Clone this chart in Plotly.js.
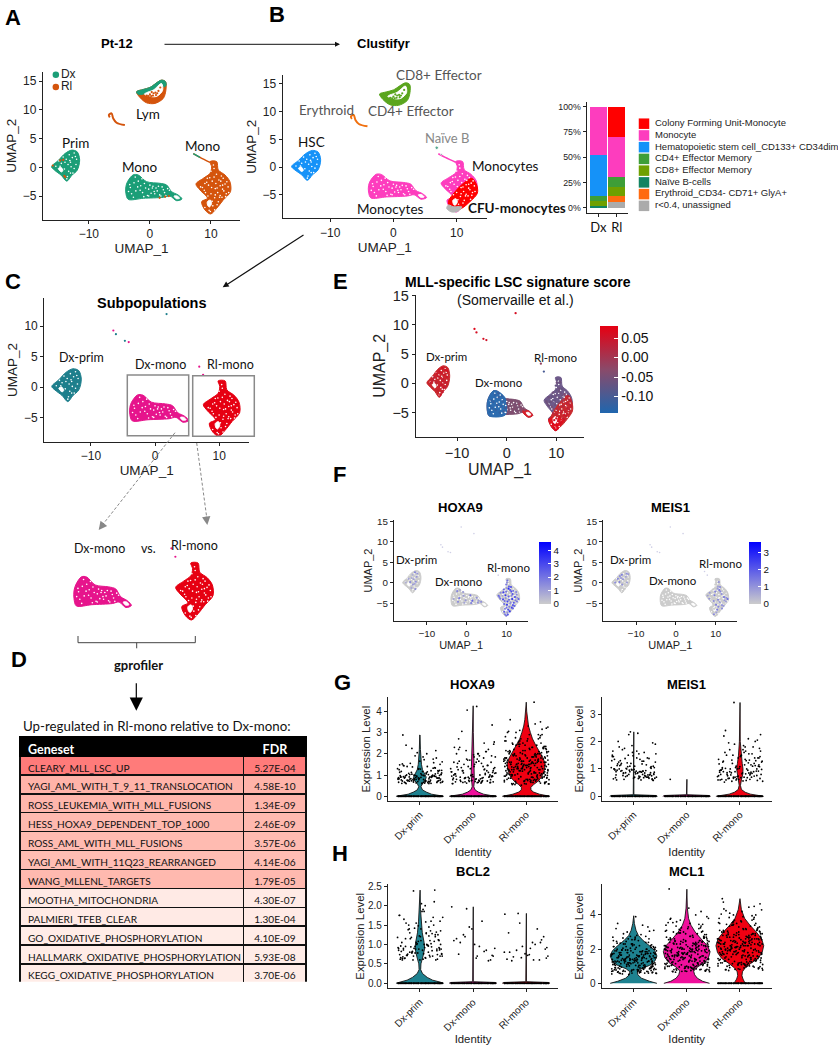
<!DOCTYPE html>
<html><head><meta charset="utf-8"><script src="https://cdn.plot.ly/plotly-3.0.1.min.js"></script>
<style>html,body{margin:0;padding:0;background:#fff}</style></head><body><div id="chart"></div>
<script>
// ---------- UMAP cluster outlines (in UMAP units) ----------
const primX=[-16.1,-15.0,-13.9,-12.8,-11.9,-11.5,-11.9,-12.8,-13.6,-14.5,-15.6];
const primY=[0.1,1.2,2.4,3.0,2.7,1.3,-0.5,-1.4,-2.4,-1.4,-0.5];
const dxX=[-3.93,-3.66,-2.73,-1.91,-0.55,1.64,2.73,3.55,4.6,5.25,4.37,3.28,2.19,-1.09,-3.55,-3.93];
const dxY=[-3.36,-2.49,-1.3,-1.33,-2.49,-2.78,-3.07,-4.23,-4.8,-5.5,-5.8,-5.0,-5.22,-5.39,-5.57,-4.52];
const rlX=[9.84,10.93,11.2,12.3,13.1,13.2,12.02,10.93,9.94,9.02,8.47,9.4,8.2,7.54,8.74,9.84,10.1];
const rlY=[1.0,1.0,-0.47,-1.33,-2.49,-4.23,-5.68,-7.13,-8.12,-7.42,-5.97,-5.39,-3.94,-2.9,-1.91,-1.04,0.1];
const lymX=[-2.19,-1.09,0,1.91,2.57,2.62,2.19,0.82,-0.55,-1.64];
const lymY=[13.16,13.56,13.91,15.19,14.9,13.45,12.0,11.13,11.24,12.17];
const lymTopX=[-2.19,-1.09,0,1.91,2.57,2.62,2.2,1.91,0.55,-0.55,-1.09,-1.9];
const lymTopY=[13.16,13.56,13.91,15.19,14.9,14.2,14.0,14.6,13.5,13.0,12.75,12.7];
const lymHoleX=[-0.9,-0.55,0.55,1.91,2.08,1.2,0.3];
const lymHoleY=[12.75,13.0,13.45,14.6,13.4,12.4,12.3];
const lymSpeckX=[-0.5,0,0.5,0.9,1.4,0.2,-0.2,1.0,1.7,0.6,1.2,0.3];
const lymSpeckY=[12.5,12.7,12.5,13,13.3,12.4,12.4,12.6,13.9,12.9,12.9,13.1];
const eryX=[-6.56,-6.72,-6.28,-6.0,-5.46,-4.1];
const eryY=[8.7,9.1,9.39,8.5,7.77,7.36];
const stalkX=[7.1,8.2,9.84];
const stalkY=[2.4,1.74,0.87];
const cfuX=[9.75,11.06,12.38,13.17,13.27,12.1,10.8,9.75,8.95,8.7];
const cfuY=[-4.45,-2.94,-2.03,-3.24,-4.74,-6.24,-7.44,-7.75,-7.15,-6.24];
const grayX=[8.7,9.45,10.8,10.3,9.2,8.43];
const grayY=[-6.84,-7.15,-7.15,-7.9,-8.1,-7.45];
const dxLeftX=[-3.93,-3.66,-2.73,-1.91,-0.3,-0.3,-3.55,-3.93];
const dxLeftY=[-3.36,-2.49,-1.3,-1.33,-2.55,-5.4,-5.57,-4.52];
const tailX=[3.3,4.6,5.25,4.37,3.28];
const tailY=[-4.6,-4.8,-5.5,-5.8,-5.0];
const rlBottomX=[8.47,10.3,11.6,10.93,9.94,9.02];
const rlBottomY=[-6.1,-5.9,-6.2,-7.13,-8.12,-7.42];
// white gaps inside the clusters
const gapPrimX=[-15.0,-14.55,-14.25,-14.5], gapPrimY=[-0.2,0.0,-0.6,-0.8];
const gapTailX=[3.95,4.5,4.85,4.3], gapTailY=[-5.0,-5.0,-5.4,-5.45];
const gapRlX=[9.4,9.9,10.1,9.75,9.5], gapRlY=[-6.0,-5.7,-6.3,-6.9,-6.7];
const specksPrimX=[-13.0,-14.9,-12.4,-13.4,-12.2,-13.7,-14.0,-12.9,-13.2,-12.6,-14.5,-13.5,-12.1,-13.1,-13.9,-12.7,-14.7,-12.4,-13.3,-12.0,-13.6,-15.4,-13.0,-14.2];
const specksPrimY=[-1.0,1.1,-0.2,0.5,1.9,1.4,-0.3,0.1,2.2,-1.0,0.7,-1.6,0.5,1.2,0.9,1.7,0.2,2.5,-0.7,1.4,-2.0,0.2,0.9,1.8];
const specksDxX=[-3.2,-2.6,-1.5,-0.9,-0.2,0.5,1.2,2.0,-3.0,-2.3,-1.2,-0.4,0.8,1.6,2.4,-2.7,-1.9,-0.7,0.2,1.0,1.8,2.9,-3.5,-2.0,-1.0,0.0,1.4,2.6,-2.4,-1.6,-0.2,0.7,2.2,3.2,-3.3,-1.3,0.4];
const specksDxY=[-3.5,-2.7,-3.2,-2.8,-3.8,-3.3,-4.1,-3.4,-4.6,-4.1,-4.4,-4.9,-4.6,-4.8,-4.4,-5.2,-2.4,-3.6,-4.5,-3.6,-5.0,-3.7,-4.2,-3.4,-5.1,-3.1,-3.3,-4.9,-1.7,-4.0,-5.0,-4.2,-3.9,-4.0,-3.0,-2.0,-3.6];
const specksRlX=[10.4,10.0,10.9,9.8,11.3,9.0,10.2,11.5,12.3,8.6,9.6,10.7,11.9,12.8,9.1,10.0,11.1,12.5,9.5,10.6,11.8,12.2,10.3,11.2,9.9,12.0,10.8,11.4,8.3,9.4,10.5,11.7,12.6,9.3,10.1,11.0,12.1,8.9,10.7,11.5,10.2,11.0,9.7,12.4,10.5,11.6,12.9,9.0,10.6,11.9];
const specksRlY=[0.4,-0.7,-1.2,-1.8,-2.2,-2.8,-2.4,-3.2,-2.9,-3.5,-3.1,-3.7,-3.8,-3.4,-4.4,-4.6,-4.4,-4.6,-5.0,-5.3,-5.2,-5.8,-6.7,-6.0,-7.7,-1.9,-2.8,-5.2,-3.4,-1.9,-0.2,-1.5,-2.5,-2.6,-3.5,-3.6,-4.1,-4.0,-4.8,-4.9,-5.9,-6.5,-7.5,-5.1,-1.7,-2.4,-4.4,-7.0,-7.4,-3.1];
// loose cells shown in panels C and E
const strayX=[1.8,-6.5,-6.1,-4.7,-4.1,6.9,7.5];
const strayY=[12.0,9.3,8.7,7.6,7.4,3.35,2.0];
const strayScore=[0.06,0.07,0.06,0.06,0.05,-0.02,-0.1];
const strayGroup=['#1E7F8C','#E6148C','#1E7F8C','#1E7F8C','#E6148C','#E6148C','#E6148C'];
const strayFX=[-1.4,1.8,-6.5,-6.1,-4.7,-4.1,7.2,7.9];
const strayFY=[13.6,12.0,9.3,8.7,7.6,7.4,2.8,1.9];
// sampled cells coloured by score / expression
const dotsPrimX=[-13.2,-12.4,-12.9,-13.8,-14.2,-12.1,-13.5,-12.7,-14.6,-13.0,-12.3,-13.6,-12.9,-14.9,-13.3,-12.0,-13.9,-12.6,-13.4,-15.3,-12.8,-14.1,-13.1,-12.4];
const dotsPrimY=[1.8,2.3,0.7,1.2,0.2,1.1,-0.4,-0.8,1.0,2.6,0.1,2.0,-1.5,0.5,0.9,2.1,-1.2,1.5,-2.0,0.1,0.3,1.7,-0.2,-0.6];
const dotsDxX=[-3.1,-2.4,-1.6,-0.8,0.1,0.9,1.7,2.5,-3.3,-2.7,-1.9,-1.1,-0.3,0.6,1.4,2.2,3.0,-3.4,-2.2,-1.4,-0.6,0.3,1.1,1.9,2.8,-2.9,-1.7,-0.9,0.4,3.6];
const dotsDxY=[-2.9,-2.0,-2.4,-3.1,-3.4,-3.0,-3.5,-3.6,-3.9,-3.2,-3.7,-3.9,-4.2,-3.9,-4.3,-4.1,-4.3,-4.9,-4.6,-5.0,-4.8,-5.0,-4.9,-4.7,-4.8,-4.3,-1.7,-2.2,-4.5,-4.6];
const dotsRlX=[10.2,10.8,9.9,10.6,10.1,11.1,9.3,10.0,10.9,11.7,8.5,9.2,9.9,10.7,11.5,12.4,8.0,8.9,9.7,10.5,11.3,12.1,12.9,8.4,9.1,9.8,10.6,11.4,12.2,13.0,8.7,9.5,10.2,11.0,11.8,12.6,9.4,10.1,10.9,11.6,12.3,10.0,10.7,11.3,12.0,9.6,10.4,11.0,11.6,9.4,10.2,10.8,9.6,10.3,9.9,12.7,8.2,11.2,12.5,10.5];
const dotsRlY=[0.6,0.2,-0.4,-0.9,0.1,-1.0,-1.6,-1.2,-1.7,-1.9,-2.4,-2.3,-2.1,-2.5,-2.7,-2.2,-3.1,-3.2,-3.0,-3.3,-3.1,-3.4,-3.0,-3.8,-4.0,-3.7,-4.1,-3.9,-4.2,-3.9,-3.3,-4.4,-4.5,-4.7,-4.8,-4.5,-5.1,-5.3,-5.0,-5.4,-5.2,-6.0,-5.8,-6.0,-5.6,-6.3,-6.5,-6.6,-6.2,-7.0,-7.2,-6.9,-7.6,-7.7,-7.9,-3.6,-3.4,-2.1,-2.8,-1.4];
const scorePrim=[0.05,0.06,0.04,0.05,0.03,0.05,0.04,0.05,0.03,0.06,0.04,0.05,0.04,0.03,0.05,0.06,0.04,0.05,0.05,0.04,0.04,0.05,0.05,0.03];
const scoreDx=[-0.12,-0.12,-0.11,-0.12,-0.05,-0.04,-0.05,-0.03,-0.13,-0.12,-0.11,-0.12,-0.1,-0.05,-0.04,-0.05,-0.03,-0.13,-0.12,-0.12,-0.11,-0.05,-0.04,-0.05,-0.03,-0.12,-0.11,-0.12,-0.05,-0.02];
const scoreRl=[-0.07,-0.06,-0.07,-0.06,-0.06,-0.07,-0.06,-0.07,-0.06,-0.03,-0.06,-0.07,-0.06,-0.06,-0.02,0.02,-0.06,-0.06,-0.07,-0.05,0.0,0.03,0.03,-0.06,-0.05,-0.06,0.0,0.02,0.03,0.04,-0.07,-0.03,0.01,0.03,0.04,0.03,0.02,0.03,0.04,0.05,0.04,0.05,0.05,0.04,0.05,0.05,0.05,0.06,0.05,0.06,0.07,0.06,0.07,0.07,0.07,0.03,-0.06,-0.06,0.02,-0.06];
const hoxaPrim=[0,1.2,0,0.8,1.5,0,1.1,0,0.9,1.6,0,0.7,1.3,0,1.0,0,0.8,1.2,0,0.6,1.4,0,0.9,0];
const hoxaDx=[0,1.6,0,1.1,0,2.0,0,1.3,0.9,0,1.8,0,1.2,0,2.4,0,1.0,0,1.5,0,0.9,0,1.7,0,1.3,0,0.8,1.1,0,1.4];
const hoxaRl=[2.1,0,1.8,2.5,1.4,3.0,2.2,1.1,2.6,1.9,1.5,3.2,2.0,0,2.7,1.7,2.3,1.2,3.4,2.4,1.6,2.9,0,1.9,2.8,1.3,2.2,3.6,1.8,2.5,0,2.1,3.0,1.5,2.6,1.9,2.3,3.3,1.4,2.7,0,2.0,1.7,3.1,2.4,1.6,2.9,0,2.2,2.5,1.3,3.5,1.8,2.6,2.1,1.2,2.0,2.8,1.5,3.7];
const meisPrim=[0,1.1,0,0.9,1.3,0,1.0,0,1.2,0,0.8,1.4,0,0,1.0,0.9,0,0.7,0,1.1,0,1.2,0,0];
const meisRl=[0,1.0,0,0.8,0,1.2,0,0,1.5,0,0.9,0,1.3,0,1.1,0,0.8,0,1.4,0,0,1.6,0,1.0,0,0,1.2,0,0.9,1.7,0,1.1,0,1.3,0,0.8,0,1.4,0,1.0,0,0,1.2,0,0.9,0,1.5,0,1.1,0,0.8,0,1.3,0,0,1.0,0,1.2,0,0.9];

// ---------- stacked bar ----------
const barCats=['Dx','Rl'];
const barNames=['Colony Forming Unit-Monocyte','Monocyte','Hematopoietic stem cell_CD133+ CD34dim','CD4+ Effector Memory','CD8+ Effector Memory','Naïve B-cells','Erythroid_CD34- CD71+ GlyA+','r<0.4, unassigned'];
const barColors=['#FF0000','#FD3DBE','#1592F8','#3E9E37','#6FA000','#128462','#FF6A10','#ABABAB'];
const barDx=[0,48,40,5.4,5,1.6,0,0];
const barRl=[30.4,39.6,0,9.2,8.8,0,6,6];
const barTicks=[0,25,50,75,100];
const barTickText=['0%','25%','50%','75%','100%'];
const legendRows=[0,1,2,3,4,5,6,7];

// ---------- table ----------
const genesets=['CLEARY_MLL_LSC_UP','YAGI_AML_WITH_T_9_11_TRANSLOCATION','ROSS_LEUKEMIA_WITH_MLL_FUSIONS','HESS_HOXA9_DEPENDENT_TOP_1000','ROSS_AML_WITH_MLL_FUSIONS','YAGI_AML_WITH_11Q23_REARRANGED','WANG_MLLENL_TARGETS','MOOTHA_MITOCHONDRIA','PALMIERI_TFEB_CLEAR','GO_OXIDATIVE_PHOSPHORYLATION','HALLMARK_OXIDATIVE_PHOSPHORYLATION','KEGG_OXIDATIVE_PHOSPHORYLATION'];
const fdr=['5.27E-04','4.58E-10','1.34E-09','2.46E-09','3.57E-06','4.14E-06','1.79E-05','4.30E-07','1.30E-04','4.10E-09','5.93E-08','3.70E-06'];
const rowFill=['#FF7B7A','#FFB3A9','#FFB6AC','#FFB9AF','#FFBBB1','#FFBDB3','#FFB9AF','#FFEAE5','#FFEAE5','#FFECE7','#FFECE7','#FFECE7'];

// ---------- violins ----------
const identities=['Dx-prim','Dx-mono','Rl-mono'];
const vioColors=['#1E8290','#F0109C','#F00012'];
const hoxaV=[
 {y:[0,.04,.1,.2,.3,.45,.6,.75,.9,1.05,1.25,1.5,1.8,2.2,2.88],w:[.45,.36,.22,.12,.05,.02,.05,.1,.12,.09,.05,.03,.02,.01,.003]},
 {y:[0,.04,.1,.2,.3,.45,.7,1,1.4,1.9,2.3,3,4.25],w:[.45,.33,.2,.1,.04,.015,.025,.035,.03,.025,.012,.006,.003]},
 {y:[0,.04,.1,.2,.3,.42,.55,.7,.9,1.2,1.5,1.8,2.1,2.4,2.7,3,3.3,3.6,4,4.42],w:[.45,.37,.25,.14,.09,.09,.14,.22,.29,.34,.36,.32,.25,.18,.12,.08,.045,.025,.01,.003]}];
const meisV=[
 {y:[0,.03,.06,2.35],w:[.45,.42,.006,.004]},
 {y:[0,.03,.06,.62],w:[.45,.42,.005,.004]},
 {y:[0,.03,.08,.15,.25,.4,.6,.8,1,1.2,1.5,2,3.42],w:[.45,.36,.2,.1,.03,.012,.03,.055,.06,.045,.025,.008,.004]}];
const bclV=[
 {y:[0,.03,.08,.15,.25,.35,.5,.7,.9,1.05,1.3,1.6,1.9,2.4],w:[.45,.38,.24,.14,.05,.015,.02,.06,.09,.08,.045,.025,.012,.004]},
 {y:[0,.02,.04,1.97],w:[.45,.42,.006,.005]},
 {y:[0,.02,.04,1.8],w:[.45,.42,.006,.005]}];
const mclV=[
 {y:[0,.12,.3,.5,.68,.85,1.05,1.3,1.6,1.9,2.2,2.5,2.8,3.1,3.5,3.95],w:[.44,.3,.15,.08,.07,.14,.3,.4,.44,.4,.3,.18,.09,.045,.015,.003]},
 {y:[0,.12,.3,.5,.72,.95,1.2,1.5,1.85,2.2,2.6,3,3.4,3.8,4.4,5.5],w:[.43,.3,.2,.15,.13,.2,.33,.41,.44,.39,.27,.16,.08,.035,.012,.003]},
 {y:[0,.1,.25,.45,.68,.9,1.15,1.45,1.8,2.2,2.6,3,3.4,3.8,4.3,4.95],w:[.1,.09,.06,.04,.05,.1,.2,.34,.42,.45,.41,.31,.19,.09,.03,.003]}];
const xoff=[-.31,.12,.38,-.07,.25,-.4,.03,.33,-.18,-.27,.17,.41,-.12,.08,-.36,.29,-.02,.21,-.24,.36,-.15,.06,-.33,.14,.39,-.09,.27,-.41,.01,.19,-.21,.32,-.05,.1,-.38,.23,-.29,.35,-.11,.04,.42,-.2,.16,-.35,.28,-.03,.11,-.26,.37,-.16,.07,-.39,.22,-.13,.31,-.06,.18,-.3,.4,-.01,.13,-.23,.34,-.37,.09,.26,-.19,.02,-.32,.2,-.08,.43,-.25,.15,-.42,.3,-.1,.05,-.34,.24,.38,-.17,-.04,.12,-.28,.35,-.14,.08,-.4,.21,.33,-.22,0,-.36,.17,.41,-.07,-.31,.27,.1,-.19,.36,-.12,-.03,.23,-.27,.06,.39,-.38,.16,-.09,.29,-.24,.02,.32,-.33,.19,-.15,.11,.37,-.41,.04,.25,-.06,-.2,.34,-.29,.14,.42,-.11,.07,-.35,.22,.3,-.16,-.02,.18,-.26,.4,-.39,.09,.28,-.13,-.23,.03,.35,-.3,.15];
const hPrim=[.92,1.1,.75,.63,1.32,.88,1.01,.7,1.55,.96,.82,1.22,.67,1.72,.9,1.05,.78,.61,1.4,.85,2.25,.99,.72,1.15,.64,1.9,.94,.8,1.28,.69,1.08,.87,2.05,.74,1.48,.95,.66,1.18,.83,.6,1.62,.91,1.02,.77,1.35,.86,.71,2.4,.98,1.12,.65,1.25,.89,.79,1.8,.93,.68,1.43,1.03,.84,2.0,.73,1.2,.97,.62,1.58,.81,1.07,2.88,.76,
 .88,.7,1.0,.64,1.3,.93,.78,1.16,.61,.99,1.5,.83,.69,1.06,.9,.73,1.38,.96,.66,1.2,.85,.75,1.65,.92,.6,1.1,.8,1.45,.97,.68,1.02,.87,.72,1.27,.94,.63,1.85,.81,1.13,.7,.98,1.33,.76,.89,.65,1.52,.91,1.04,.74,1.22,.84,.62,1.75,.95,.71,1.09,.86,1.4,.67,.99,.79,1.17,.93,2.15,.73,1.3,.88,.6,1.03,.82];
const hDx=[.8,1.9,1.2,.7,2.1,.95,1.5,.65,1.1,2.7,.85,1.35,.62,1.75,1.0,2.2,.75,1.25,.9,3.35,.68,1.6,1.05,.82,2.45,1.4,.72,1.15,1.95,.88,3.05,.64,1.3,2.0,.78,1.08,1.55,.92,4.05,.7,1.85,1.2,.66,2.3,1.45,.98,.76,1.65,1.12,.84,4.22,.6,1.28,2.15,.94,1.7,.74,1.38,2.55,1.02,
 1.0,.7,1.6,.85,2.0,1.2,.65,1.4,.95,1.8,.75,1.1,2.3,.62,1.3,.9,1.7,.8,1.05,2.1,.68,1.5,.98,.72,1.25,1.9,.88,.64,1.15,2.5,.78,1.35,.92,1.6,.7,1.08,.84,2.0,1.45,.66,1.2,.96,1.75,.74,1.02,2.2,.82,1.3,.6,1.55,.9,1.12,.76,1.85,1.0,.68,1.4,.86,1.65,.94];
const hRl=[1.6,.9,2.2,1.3,.7,1.8,2.7,1.1,1.5,.6,2.0,1.2,3.1,1.7,.8,1.4,2.4,1.0,1.9,.65,1.55,2.9,1.25,.75,2.1,1.65,3.5,.95,1.35,1.85,.55,2.3,1.45,1.05,2.6,1.75,.85,1.15,2.05,3.3,1.5,.7,1.95,1.3,2.5,.6,1.6,1.0,2.25,1.4,.8,2.8,1.7,1.2,.9,2.15,1.55,3.6,1.1,1.9,.65,1.35,2.35,1.8,.75,1.25,3.0,1.45,2.0,.95,1.65,.58,2.45,1.15,1.75,.85,2.7,1.5,1.05,2.1,3.2,1.3,.7,1.85,1.6,.6,2.55,1.2,1.4,.9,2.25,1.95,.8,1.1,3.4,1.7,1.35,2.05,.62,1.55,2.4,1.0,1.8,.72,2.9,1.25,1.65,.88,2.15,1.45,.52,1.9,1.15,2.6,1.75,3.05,.78,1.3,2.3,1.6,.68,1.05,2.0,1.4,2.75,.92,1.5,1.85,.58,1.2,2.2,1.7,.82,3.15,1.35,1.95,1.1,2.5,.98,1.55,.66,1.8,2.35,1.25,.74,1.45,2.1,4.42,1.02,1.6,
 1.4,2.0,1.1,1.7,.8,2.3,1.5,.95,1.9,1.25,2.6,.7,1.6,1.05,2.15,1.35,.6,1.8,2.45,1.15,.85,1.55,2.05,1.3,2.85,.75,1.45,1.95,1.0,2.25,1.65,.9,1.2,2.7,1.5,.65,1.75,1.1,2.1,1.4,.8,3.0,1.6,1.25,1.85,.55,2.35,1.05,1.5,.95,2.0,1.7,1.3,2.5,.72,1.15,1.9,1.45,.88,2.2,1.6,1.0,1.35,2.75,.62,1.8,1.2,2.4,1.55,.78,1.95,1.1,1.65,2.9,.92,1.4,2.1,1.25,.68,1.75,1.5,2.3,1.02,1.85,.82,1.3,2.6,1.6,1.08,2.0,.58,1.45,1.7,3.25,1.18,2.15,.98,1.55,1.9,1.28,2.45,.74,1.65,1.38,2.25,.86,1.8,1.12,1.5,2.05];
const mPrim=[.95,1.35,.8,1.1,.7,1.5,.88,1.02,.62,1.8,.92,1.25,.75,2.3,1.0,.66,1.6,.85,1.15,1.95,.72,1.4,.9,.6,1.05,2.25,.78,1.3,.98,.68,1.7,.86,1.2,.74,1.45,.94,2.0,.64,1.08,.82,1.55,.76,1.28,.96,.7,1.85,.9,1.12,.58,1.38,.84,1.65,.72,1.0,.8,2.35,.92,1.18,.66,1.48,
 .9,1.2,.75,1.0,.65,1.4,.85,1.1,.6,1.6,.95,.7,1.3,.88,1.05,.78,1.5,.92,.68,1.15,.82,1.75,.98,.72,1.25,.62,1.02,.86,1.45,.76,1.08,.94,.66,1.35,.8,1.9,.9,1.12,.7,1.55,.84,.6,1.22,.96,.74,1.0,1.65,.88,.64,1.18,.8,1.38,.92,.7,1.05,.78,1.28,.86,.68,1.1];
const mDx=[.62];
const mRl=[.9,1.3,.65,1.1,1.8,.75,1.5,.58,1.0,2.4,.85,1.25,.7,1.6,.95,2.0,.62,1.15,.8,1.4,.55,1.7,1.05,.68,2.25,.9,1.2,.6,1.45,.78,1.95,1.0,.72,1.35,.88,1.55,.52,1.1,3.42,.82,1.28,.66,2.1,.96,1.4,.74,1.65,.6,1.08,.86,1.85,1.18,.7,1.5,.92,.64,1.32,2.2,.8,1.02,
 1.0,.75,1.4,.6,1.15,.9,1.7,.68,1.25,.82,1.05,.55,1.5,.95,.72,1.3,1.9,.85,.62,1.1,1.45,.78,1.0,.58,1.6,.92,1.2,.7,1.35,.88,2.05,.65,1.08,.8,1.55,.98,.6,1.28,.74,1.8,.9,1.15,.66,1.4,.84,1.02,.56,1.65,.94,1.22,.7,1.12,.86,1.48,.76,1.0,.62,1.32,.82,1.75];
const bPrim=[.9,1.3,.7,1.05,1.7,.85,2.05,.62,1.15,.95,1.45,.75,2.38,1.0,.66,1.25,.88,1.6,.72,1.1,.8,1.9,.6,.98,1.35,.78,2.1,.92,1.2,.68,1.5,.84,1.02,2.0,.74,1.28,.64,1.12,.9,1.85,.7,1.4,.96,.82,2.4,1.08,.65,1.55,.86,1.18,.76,1.75,.94,.6,1.32,1.0,.72,1.65,.88,1.22,
 1.0,.75,1.25,.62,.92,1.5,.8,1.1,.68,1.35,.88,1.7,.72,.98,1.18,.6,1.42,.85,1.05,.7,1.6,.94,.78,1.28,.65,1.12,.82,1.85,.9,1.02,.74,1.38,.6,.96,1.22,.76,1.55,.86,1.08,.66,1.3,.92,.7,1.48,.84,1.15,.62,1.0,1.75,.8,.95,1.2,.72,1.4,.88,.64,1.1,.78,1.58,.9];
const bDx=[1.15,.95,.7,1.45,.85,1.97,1.0,.6,1.25,.75,1.6,.9,1.92,.7,1.1,.58,1.4,.82,1.05,.72,1.2,.65];
const bRl=[.8,1.05,.65,.95,.6,1.78,.72,1.2,.85,.58,1.0,.7,1.55,.9,.62,1.12,.76,1.4,.68,.88,1.8,.74,1.3,.6,.92,.66,1.05,.8];
const cPrim=[1.5,.9,2.1,1.2,.7,1.7,2.6,1.0,1.4,.6,1.9,1.1,3.0,1.6,.8,1.3,2.3,.95,1.8,.65,1.45,2.8,1.25,.75,2.0,1.55,3.3,.85,1.35,1.65,.55,2.2,1.15,1.05,2.5,1.75,.9,1.2,1.95,3.9,1.5,.7,1.85,1.3,2.4,.6,1.6,1.0,2.15,1.4,.8,2.7,1.7,1.1,.9,2.05,1.55,3.5,1.2,1.8,.65,1.35,2.25,1.75,.75,1.25,2.9,1.45,1.9,.95,1.65,.58,2.35,1.15,1.7,.85,2.6,1.5,1.05,2.0,3.1,1.3,.72,1.85,1.6,.62,2.45,1.2,1.4,.9,2.1,1.95,.8,1.1,3.4,1.7,1.35,2.0,.68,1.55,2.3,1.0,1.8,.78,2.75,1.25,1.65,.88,2.15,1.45,.52,1.9,1.15,2.55,1.75,3.2,.82,1.3,2.2,1.6,.7,1.05,2.0,1.4,2.65,.92,1.5,1.85,.6,1.2,
 1.4,1.9,1.0,1.6,.7,2.2,1.2,.85,1.75,1.1,2.5,.6,1.5,.95,2.0,1.3,.65,1.7,2.35,1.05,.8,1.45,1.85,1.25,2.7,.75,1.35,1.8,.9,2.1,1.55,.7,1.15,2.6,1.4,.6,1.65,1.0,1.95,1.3,.78,2.85,1.5,1.2,1.75,.55,2.25,1.05,1.45,.88,1.9,1.6,1.25,2.4,.68,1.1,1.8,1.35,.82,2.05,1.5,.92,1.3,2.55,.62,1.7,1.15,2.3,1.4,.72,1.85,1.0,1.55,2.75,.85,1.3,2.0,1.2,.66,1.65,1.45,2.15,.96,1.75,.76,1.25,2.45,1.5,1.02,1.9,.58,1.35,1.6,3.05,1.1,2.1,.9,1.45,1.8,1.2,2.3,.7,1.55,1.28,2.15,.8,1.7,1.08,1.4,1.95];
const cDx=[1.9,1.1,2.6,1.5,.8,2.2,3.3,1.3,1.8,.7,2.4,1.4,3.7,2.0,1.0,1.6,2.9,1.2,2.3,.75,1.85,3.5,1.55,.9,2.5,2.0,4.2,1.15,1.7,2.1,.65,2.75,1.45,1.3,3.1,2.2,1.05,1.5,2.45,4.4,1.9,.85,2.3,1.6,3.0,.72,2.0,1.25,2.7,1.75,.95,3.4,2.15,1.35,1.1,2.55,1.95,3.8,1.4,2.25,.8,1.65,2.85,2.1,.9,1.55,3.6,1.8,2.4,1.2,2.05,.68,3.0,1.45,2.2,1.05,3.25,1.9,1.3,2.5,3.9,1.6,.88,2.35,2.0,.75,3.15,1.5,1.75,1.15,2.65,2.45,1.0,1.35,4.0,2.15,1.7,2.55,.82,1.95,2.9,1.25,2.3,.98,3.45,1.6,2.05,1.1,2.7,1.8,.7,2.4,1.4,3.2,2.2,5.52,1.02,1.65,2.8,2.0,.86,1.3,2.5,1.75,3.35,1.18,1.9,2.3,.78,1.5,2.75,2.1,1.08,3.05,1.7,2.45,1.38,3.55,1.22,1.95,.92,2.25,2.95,1.55,.96,1.85,2.6,1.45,3.75,.84,
 1.8,2.4,1.3,2.0,.9,2.7,1.6,1.1,2.2,1.45,3.1,.75,1.9,1.2,2.5,1.7,.8,2.15,2.95,1.35,1.0,1.85,2.35,1.55,3.35,.95,1.75,2.3,1.15,2.65,2.0,.88,1.5,3.2,1.8,.72,2.1,1.25,2.45,1.65,.98,3.55,1.9,1.5,2.2,.68,2.85,1.3,1.85,1.1,2.4,2.05,1.6,3.0,.85,1.4,2.25,1.7,1.05,2.6,1.95,1.18,1.65,3.25,.78,2.15,1.45,2.9,1.75,.92,2.35,1.28,2.0,3.45,1.08,1.6,2.55,1.5,.82,2.1,1.8,2.7,1.22,2.2,.96,1.55,3.05,1.9,1.32,2.5,.7,1.7,2.05,3.8,1.4,2.65,1.12,1.85,2.3,1.52,2.95,.9,2.0,1.62,2.75,1.02,2.15,1.38,1.78,2.45];
const cRl=[2.3,1.4,3.0,1.9,1.0,2.6,3.6,1.6,2.2,.8,2.8,1.7,4.0,2.4,1.2,2.0,3.3,1.5,2.7,.9,2.25,3.9,1.85,1.1,2.9,2.4,4.5,1.45,2.1,2.5,.75,3.1,1.75,1.6,3.5,2.6,1.3,1.9,2.85,4.2,2.3,1.05,2.7,2.0,3.4,.85,2.4,1.55,3.05,2.15,1.15,3.8,2.55,1.7,1.35,2.95,2.35,4.35,1.8,2.65,1.0,2.05,3.25,2.5,1.1,1.95,4.1,2.2,2.8,1.5,2.45,.78,3.45,1.8,2.6,1.3,3.7,2.3,1.65,2.9,4.65,2.0,1.08,2.75,2.4,.9,3.55,1.9,2.15,1.4,3.15,2.85,1.2,1.7,4.45,2.55,2.1,3.0,.95,2.35,3.35,1.55,2.7,1.18,3.95,2.0,2.45,1.35,3.1,2.2,.82,2.8,1.75,3.65,2.6,4.95,1.28,2.05,3.2,2.4,1.02,1.6,2.9,2.15,3.85,1.45,2.3,2.7,.88,1.85,3.15,2.5,1.25,3.5,2.1,2.85,1.65,4.25,1.48,2.35,1.12,2.6,3.4,1.9,1.22,2.25,3.0,1.8,4.75,.98,
 2.2,2.8,1.6,2.4,1.1,3.2,1.9,1.3,2.6,1.75,3.6,.9,2.3,1.45,3.0,2.05,1.0,2.55,3.4,1.65,1.2,2.2,2.75,1.85,3.85,1.15,2.1,2.7,1.4,3.1,2.35,1.05,1.8,3.7,2.15,.85,2.5,1.5,2.9,1.95,1.18,4.05,2.3,1.8,2.6,.8,3.3,1.55,2.2,1.35,2.85,2.45,1.9,3.5,1.02,1.7,2.65,2.0,1.25,3.05,2.3,1.4,1.95,3.75,.92,2.55,1.75,3.35,2.1,1.1,2.8,1.55,2.4,4.0,1.28,1.9,3.0,1.8,.98,2.5,2.15,3.15,1.48,2.6,1.15,1.85,3.55,2.25,1.58,2.95,.82,2.05,2.45,4.3,1.68,3.1,1.35,2.2,2.7,1.82,3.45,1.08,2.4,1.95,3.2,1.22,2.55,1.62,2.1,2.9];
// cells with zero expression form the black row along the base of each violin
const zeroRow=[0,0,0,0,0,0,0,0,0,0,0,0,0,0,0,0,0,0,0,0,0,0,0,0,0,0,0,0,0,0,0,0,0,0,0,0,0,0,0,0,0,0,0,0,0,0,0,0,0,0];

// ---------- helpers ----------
const W=838,H=1050,SANS='"Liberation Sans",Arial,sans-serif',LATO='Lato,"Open Sans",sans-serif',INK='#222';
const px=v=>v/W, py=v=>1-v/H;
const traces=[],annotations=[],shapes=[];
const layout={width:W,height:H,margin:{l:0,r:0,t:0,b:0},autosize:false,showlegend:false,paper_bgcolor:'#fff',plot_bgcolor:'rgba(0,0,0,0)',barmode:'stack',bargap:0.1,font:{family:SANS,color:INK},annotations,shapes};
function axes(n,l,r,t,b,xr,yr,o){o=o||{};const s=n===1?'':n;
  const base={showgrid:false,zeroline:false,showline:true,linecolor:INK,linewidth:1.3,ticks:'outside',ticklen:3,tickwidth:1,tickcolor:INK,automargin:false};
  layout['xaxis'+s]=Object.assign({},base,{domain:[px(l),px(r)],range:xr,anchor:'y'+s,tickvals:[-10,0,10],tickfont:{size:o.tick||12,family:SANS,color:INK},
    title:o.xt?{text:o.xt,font:{size:o.tsize||13.5,family:SANS,color:INK},standoff:o.xs==null?4:o.xs}:undefined},o.x||{});
  layout['yaxis'+s]=Object.assign({},base,{domain:[py(b),py(t)],range:yr,anchor:'x'+s,tickvals:[-5,0,5,10,15],tickfont:{size:o.tick||12,family:SANS,color:INK},
    title:o.yt?{text:o.yt,font:{size:o.tsize||13.5,family:SANS,color:INK},standoff:o.ys==null?4:o.ys}:undefined},o.y||{});
}
const hidden={visible:false};
const ref=n=>n===1?{xaxis:'x',yaxis:'y'}:{xaxis:'x'+n,yaxis:'y'+n};
function fill(n,xs,ys,c){traces.push(Object.assign({type:'scatter',mode:'lines',x:xs.concat(xs[0]),y:ys.concat(ys[0]),fill:'toself',fillcolor:c,line:{color:c,width:1,shape:'spline',smoothing:0.9},hoverinfo:'skip'},ref(n)));}
function line(n,xs,ys,c,w){traces.push(Object.assign({type:'scatter',mode:'lines',x:xs,y:ys,line:{color:c,width:w,shape:'spline'},hoverinfo:'skip'},ref(n)));}
function pts(n,xs,ys,c,s){traces.push(Object.assign({type:'scatter',mode:'markers',x:xs,y:ys,marker:{color:c,size:s,line:{width:0}},hoverinfo:'skip'},ref(n)));}
function gaps(n){
  fill(n,gapPrimX,gapPrimY,'#fff');fill(n,gapTailX,gapTailY,'#fff');fill(n,gapRlX,gapRlY,'#fff');
  pts(n,specksPrimX,specksPrimY,'#fff',1.6);pts(n,specksDxX,specksDxY,'#fff',1.6);pts(n,specksRlX,specksRlY,'#fff',1.6);
}
function label(t,x,y,size,o){annotations.push(Object.assign({text:t,xref:'paper',yref:'paper',x:px(x),y:py(y),xanchor:'center',yanchor:'middle',showarrow:false,font:{size:size,family:LATO,color:'#111'}},o||{}));}
function bold(t,x,y,size){label('<b>'+t+'</b>',x,y,size,{font:{size,family:SANS,color:'#000'}});}
function arrow(x0,y0,x1,y1,c,w,s){annotations.push({text:'',xref:'paper',yref:'paper',x:px(x1),y:py(y1),ax:x0-x1,ay:y0-y1,axref:'pixel',ayref:'pixel',showarrow:true,arrowhead:2,arrowsize:s||1,arrowwidth:w,arrowcolor:c,standoff:0});}
function seg(x0,y0,x1,y1,c,w,dash){shapes.push({type:'line',xref:'paper',yref:'paper',x0:px(x0),y0:py(y0),x1:px(x1),y1:py(y1),line:{color:c,width:w,dash:dash||'solid'},layer:'above'});}
function box(x0,y0,x1,y1){shapes.push({type:'rect',xref:'paper',yref:'paper',x0:px(x0),y0:py(y0),x1:px(x1),y1:py(y1),line:{color:'#8A8A8A',width:1.5},layer:'above'});}

// ---------- Panel A ----------
axes(1,43,240,72,219.5,[-17.5,14.75],[-9.08,16.6],{xt:'UMAP_1',yt:'UMAP_2',xs:3,ys:3});
const GRN='#1B9E77',ORG='#D4540C';
fill(1,primX,primY,GRN);fill(1,dxX,dxY,GRN);fill(1,rlX,rlY,ORG);line(1,stalkX,stalkY,ORG,1.5);line(1,stalkX.slice(0,2),stalkY.slice(0,2),GRN,1.5);
fill(1,lymX,lymY,ORG);fill(1,lymTopX,lymTopY,GRN);fill(1,lymHoleX,lymHoleY,'#fff');pts(1,lymSpeckX,lymSpeckY,ORG,2.2);line(1,eryX,eryY,ORG,2);
gaps(1);
// cells of the other sample inside each cluster
const crossRlX=[-15.9,-14.7,-14.2,-14.0,-13.85,1.6,2.5,3.1];
const crossRlY=[0.3,1.2,1.3,-1.5,-1.7,-5.3,-5.1,-5.0];
pts(1,crossRlX,crossRlY,ORG,2.2);
// key of panel A
const sampleNames=['Dx','Rl'], sampleColors=[GRN,ORG], sampleKeyX=[-15.4,-15.4], sampleKeyY=[16.1,14.0];
traces.push({type:'scatter',mode:'markers+text',x:sampleKeyX,y:sampleKeyY,text:sampleNames,textposition:'middle right',textfont:{size:12,family:SANS,color:INK},marker:{color:sampleColors,size:6.5},cliponaxis:false,hoverinfo:'skip'});

// ---------- Panel B ----------
axes(2,282.7,486.7,75,218.3,[-17.5,14.75],[-9.24,16.6],{xt:'UMAP_1',yt:'UMAP_2',xs:1,ys:2.5});
const PINK='#FD3DBE',OLV='#5AA51E';
fill(2,primX,primY,'#1592F8');fill(2,dxX,dxY,PINK);fill(2,rlX,rlY,PINK);line(2,stalkX,stalkY,PINK,1.5);fill(2,cfuX,cfuY,'#FF0000');
fill(2,lymX,lymY,OLV);fill(2,lymHoleX,lymHoleY,'#fff');pts(2,lymSpeckX,lymSpeckY,OLV,2.2);line(2,eryX,eryY,'#F0700F',2);
gaps(2);fill(2,grayX,grayY,'#B5B5B5');
const naiveX=[6.85,7.6],naiveY=[3.48,2.3];
traces.push({type:'scatter',mode:'markers',xaxis:'x2',yaxis:'y2',x:naiveX,y:naiveY,marker:{color:'#128462',size:[3.5,1.8]},hoverinfo:'skip'});

// ---------- Stacked bar and its key ----------
axes(3,586.7,628,101.7,212.7,[-0.63,1.61],[-5,105],{tick:8.8,x:{type:'category',tickvals:barCats,tickfont:{size:13,family:LATO,color:'#111'}},y:{tickvals:barTicks,ticktext:barTickText,tickfont:{size:8.8,family:SANS,color:'#222'}}});
for(let i=barNames.length-1;i>=0;i--){traces.push({type:'bar',xaxis:'x3',yaxis:'y3',x:barCats,y:[barDx[i],barRl[i]],name:barNames[i],marker:{color:barColors[i],line:{width:0}},hoverinfo:'skip'});}
axes(14,630,838,115,215,[0,208],[7.78,-0.74],{x:hidden,y:hidden});
traces.push({type:'scatter',mode:'markers',xaxis:'x14',yaxis:'y14',x:barNames.map(()=>14),y:legendRows,marker:{symbol:'square',color:barColors,size:10.5,line:{width:0}},hoverinfo:'skip'});
traces.push({type:'scatter',mode:'text',xaxis:'x14',yaxis:'y14',x:barNames.map(()=>25),y:legendRows,text:barNames,textposition:'middle right',textfont:{size:9.5,family:SANS,color:'#222'},cliponaxis:false,hoverinfo:'skip'});

// ---------- Panel C ----------
const TEAL='#1E7F8C',MAG='#E6148C',RED='#E60012';
axes(4,44.3,249,298.3,441.7,[-17.27,14.66],[-9.0,14.6],{xt:'UMAP_1',yt:'UMAP_2',xs:0,ys:3,y:{tickvals:[-5,0,5,10]}});
fill(4,primX,primY,TEAL);fill(4,dxX,dxY,MAG);fill(4,rlX,rlY,RED);gaps(4);
traces.push({type:'scatter',mode:'markers',xaxis:'x4',yaxis:'y4',x:strayX,y:strayY,marker:{color:strayGroup,size:2.2},hoverinfo:'skip'});
box(127.3,375,188.7,435.7);box(192.7,375.7,254.3,436.3);
axes(5,50,150,560,620,[-7.77,8.23],[-7.63,1.16],{x:hidden,y:hidden});
fill(5,dxX,dxY,MAG);fill(5,gapTailX,gapTailY,'#fff');pts(5,specksDxX,specksDxY,'#fff',1.6);
axes(6,150,240,540,630,[3.65,17.3],[-9.72,4.68],{x:hidden,y:hidden});
fill(6,rlX,rlY,RED);fill(6,gapRlX,gapRlY,'#fff');pts(6,specksRlX,specksRlY,'#fff',1.6);
traces.push({type:'scatter',mode:'markers',xaxis:'x6',yaxis:'y6',x:strayX.slice(5),y:strayY.slice(5),marker:{color:MAG,size:2.2},hoverinfo:'skip'});

// ---------- Panel E ----------
const SC=[[0,'#1F66AE'],[0.5,'#8A4A6A'],[1,'#E60012']];
axes(7,416,584,295,436.7,[-18.3,15.6],[-9.13,15.1],{tick:14.5,tsize:16,xt:'UMAP_1',yt:'UMAP_2',xs:2,ys:2});
fill(7,primX,primY,'#C9262C');fill(7,dxX,dxY,'#7D5070');fill(7,dxLeftX,dxLeftY,'#2C6CB0');fill(7,tailX,tailY,'#D8202A');
fill(7,rlX,rlY,'#6E5A8A');fill(7,cfuX,cfuY,'#C92A2E');fill(7,rlBottomX,rlBottomY,'#E2141E');gaps(7);
const eX=dotsPrimX.concat(dotsDxX,dotsRlX,strayX),eY=dotsPrimY.concat(dotsDxY,dotsRlY,strayY),eC=scorePrim.concat(scoreDx,scoreRl,strayScore);
traces.push({type:'scatter',mode:'markers',xaxis:'x7',yaxis:'y7',x:eX,y:eY,hoverinfo:'skip',marker:{size:2.3,color:eC,colorscale:SC,cmin:-0.143,cmax:0.08,showscale:true,
  colorbar:{x:px(600),xanchor:'left',y:py(413.3),yanchor:'bottom',len:87.3,lenmode:'pixels',thickness:17.7,thicknessmode:'pixels',xpad:0,ypad:0,outlinewidth:0,ticks:'inside',ticklen:3.5,tickcolor:'#fff',tickvals:[-0.1,-0.05,0,0.05],ticktext:['-0.10','-0.05','0.00','0.05'],tickfont:{size:14,family:SANS,color:'#111'}}}});

// ---------- Panel F ----------
const GS=[[0,'#CCCCCC'],[1,'#0000FF']];
function featurePanel(n,l,r,barL,cmax,ticks,vals){
  axes(n,l,r,520,621,[-18.27,15.45],[-9.25,15.3],{tick:9.8,tsize:11,xt:'UMAP_1',yt:'UMAP_2',xs:0,ys:1});
  fill(n,primX,primY,'#CCCCCC');fill(n,dxX,dxY,'#CCCCCC');fill(n,rlX,rlY,'#CCCCCC');gaps(n);
  pts(n,strayFX,strayFY,'#CFCFE6',1.6);
  traces.push({type:'scatter',mode:'markers',xaxis:'x'+n,yaxis:'y'+n,x:vals.x,y:vals.y,hoverinfo:'skip',marker:{size:2.1,color:vals.c,colorscale:GS,cmin:0,cmax:cmax,showscale:true,
    colorbar:{x:px(barL),xanchor:'left',y:py(604),yanchor:'bottom',len:62,lenmode:'pixels',thickness:12.4,thicknessmode:'pixels',xpad:0,ypad:0,outlinewidth:0,ticks:'inside',ticklen:2.5,tickcolor:'#fff',tickvals:ticks,tickfont:{size:9.8,family:SANS,color:'#111'}}}});
}
featurePanel(8,394,528.3,539.3,4.6,[0,1,2,3,4],{x:dotsPrimX.concat(dotsDxX,dotsRlX),y:dotsPrimY.concat(dotsDxY,dotsRlY),c:hoxaPrim.concat(hoxaDx,hoxaRl)});
featurePanel(9,603.3,737.3,749.3,3.6,[0,1,2,3],{x:dotsPrimX.concat(dotsRlX),y:dotsPrimY.concat(dotsRlY),c:meisPrim.concat(meisRl)});

// ---------- Panels G and H ----------
function vlnPanel(n,l,r,t,b,yr,yticks,violins,dots,zeroRows,ys0){
  axes(n,l,r,t,b,[-0.6,2.6],yr,{tick:10,tsize:11.4,xt:'Identity',yt:'Expression Level',xs:0,ys:ys0,
    x:{tickvals:[0,1,2],ticktext:identities,tickangle:-45,tickfont:{size:10,family:SANS,color:INK}},
    y:{tickvals:yticks}});
  violins.forEach((v,i)=>{
    const xs=v.w.map(w=>i-w).concat(v.w.slice().reverse().map(w=>i+w));
    const ys=v.y.concat(v.y.slice().reverse());
    traces.push({type:'scatter',mode:'lines',xaxis:'x'+n,yaxis:'y'+n,x:xs,y:ys,fill:'toself',fillcolor:vioColors[i],line:{color:'#151515',width:0.9},hoverinfo:'skip'});
  });
  dots.forEach((ys,i)=>{
    traces.push({type:'scatter',mode:'markers',xaxis:'x'+n,yaxis:'y'+n,x:ys.map((_,k)=>i+xoff[k%xoff.length]),y:ys,marker:{color:'#000',size:1.8,line:{width:0}},hoverinfo:'skip'});
    if(zeroRows[i]) traces.push({type:'scatter',mode:'markers',xaxis:'x'+n,yaxis:'y'+n,x:zeroRow.map((_,k)=>i+xoff[k]),y:zeroRow,marker:{color:'#000',size:2,line:{width:0}},hoverinfo:'skip'});
  });
}
vlnPanel(10,388,558,697.3,801,[-0.22,4.65],[0,1,2,3,4],hoxaV,[hPrim,hDx,hRl],[1,1,1],3);
vlnPanel(11,601.7,771.7,697.3,801,[-0.17,3.61],[0,1,2,3],meisV,[mPrim,mDx,mRl],[1,1,1],3);
vlnPanel(12,388,558,884.3,988.3,[-0.13,2.55],[0,0.5,1,1.5,2,2.5],bclV,[bPrim,bDx,bRl],[1,1,1],0);
layout.yaxis12.tickformat='.1f';
vlnPanel(13,601.7,771.7,884.3,988.3,[-0.29,5.79],[0,2,4],mclV,[cPrim,cDx,cRl],[0,0,1],3);

// ---------- Panel D table ----------
traces.push({type:'table',domain:{x:[px(20),px(306.7)],y:[py(982.7),py(736.7)]},columnwidth:[224.3,62.4],
  header:{values:['Geneset','FDR'],align:['left','center'],height:19.3,fill:{color:'#000'},line:{color:'#000',width:1.2},font:{family:LATO,size:12.5,color:'#fff',weight:700}},
  cells:{values:[genesets,fdr],align:['left','center'],height:18.9,fill:{color:[rowFill,rowFill]},line:{color:'#111',width:1.4},font:{family:LATO,size:10.1,color:'#111'}}});

// ---------- Text, arrows ----------
[['A',13,18],['B',277,15],['C',13,281],['D',19,659],['E',340,281],['F',339,475],['G',342,682],['H',340,853]].forEach(a=>bold(a[0],a[1],a[2],22));
bold('Pt-12',116.7,43.5,13);bold('Clustifyr',383,43.5,13);
label('Prim',75,143,13.5);label('Lym',147.7,114,13.5);label('Mono',140,167.3,13.5);label('Mono',202.7,145.7,13.5);
const gray5={size:13.5,family:LATO,color:'#555'};
label('CD8+ Effector',439,74.7,13,{font:gray5});label('Erythroid',326,110.3,13,{font:gray5});label('CD4+ Effector',410.7,110.7,13,{font:gray5});
label('HSC',311,141.7,13.5);label('Monocytes',505,166,13.5);label('Monocytes',390,209,13.5);
label('Naïve B',447,138,13,{font:{size:13,family:LATO,color:'#888'}});
label('<b>CFU-monocytes</b>',517,207.7,13.5);
bold('Subpopulations',152.3,303.3,14.5);
label('Dx-prim',81.7,357.3,12.5);label('Dx-mono',160,364.3,12.5);label('Rl-mono',230.7,364.3,12.5);
label('Dx-mono',99,548.3,12.5);label('vs.',148.3,548.3,12.5);label('Rl-mono',194,545,12.5);
label('<b>gprofiler</b>',138.3,665,13);
label('Up-regulated in Rl-mono relative to Dx-mono:',20.7,726,13.3,{xanchor:'left'});
bold('MLL-specific LSC signature score',517.7,282.3,14);
label('(Somervaille et al.)',515,300,14,{font:{size:14,family:SANS,color:'#111'}});
label('Dx-prim',446.7,356,11.5);label('Dx-mono',499.3,382.7,11.5);label('Rl-mono',556,358,11.5);
bold('HOXA9',460.7,507.7,13);bold('MEIS1',670,507.7,13);
label('Dx-prim',416.7,559.3,11.5);label('Dx-mono',458.7,581,11.5);label('Rl-mono',509,567.7,11.5);
label('Dx-prim',630.7,559.3,11.5);label('Dx-mono',673.3,580.7,11.5);label('Rl-mono',721,563.3,11.5);
bold('HOXA9',472.7,684,13);bold('MEIS1',686.7,684,13);bold('BCL2',472.7,871.7,13);bold('MCL1',686.7,871.7,13);

arrow(163,44.3,340,44.3,'#111',1,1);
arrow(305,234,222.7,287.3,'#111',1.2,1);
seg(175,432.7,100,528,'#888',1,'3px,2px');arrow(104.9,522,98.7,530,'#888',1.2,1.4);
seg(196.7,443,206.8,518,'#888',1,'3px,2px');arrow(206,515.1,207.3,525,'#888',1.2,1.4);
arrow(136.3,681.7,136.3,710.7,'#000',1.2,2.2);
seg(78,636,78,642.7,'#444',1);seg(78,642.7,195.3,642.7,'#444',1);seg(195.3,636,195.3,642.7,'#444',1);seg(136.7,642.7,136.7,648.3,'#444',1);

Plotly.newPlot('chart',traces,layout,{displayModeBar:false,responsive:false});
</script></body></html>
